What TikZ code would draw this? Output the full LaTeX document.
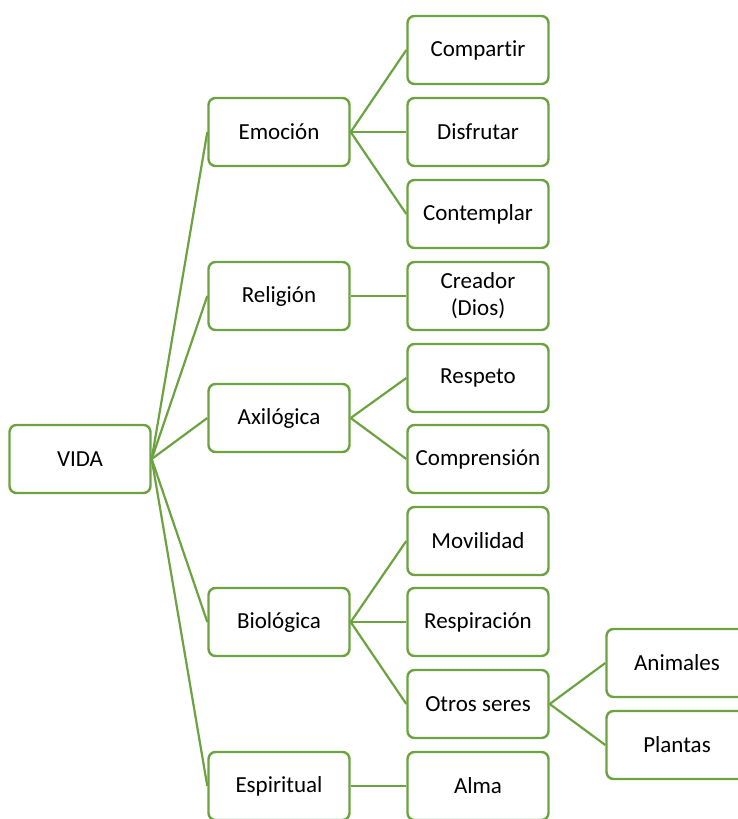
\documentclass[tikz,border=0pt]{standalone}
\usepackage{fontspec}
\setmainfont[Ligatures=NoCommon]{Carlito}
\definecolor{verde}{RGB}{108,163,64}
\begin{document}
\begin{tikzpicture}[x=1pt, y=-1pt,
  caja/.style={shape=rectangle, draw=verde, line width=2.4pt, rounded corners=7pt, fill=white,
    minimum width=141pt, minimum height=68pt, align=center, font=\fontsize{23}{27}\selectfont},
  rama/.style={-, draw=verde, line width=2.2pt}]
\useasboundingbox (0,0) rectangle (738,819);
\clip (0,0) rectangle (738,819);
% raiz
\node[caja] (vida) at (80, 459) {VIDA};
% primer nivel
\node[caja] (emo) at (279, 132) {Emoción};
\node[caja] (rel) at (279, 296) {Religión};
\node[caja] (axi) at (279, 418) {Axilógica};
\node[caja] (bio) at (279, 622) {Biológica};
\node[caja] (esp) at (279, 786) {Espiritual};
% segundo nivel
\node[caja] (comp) at (478, 50) {Compartir};
\node[caja] (disf) at (478, 132) {Disfrutar};
\node[caja] (cont) at (478, 214) {Contemplar};
\node[caja] (crea) at (478, 296) {Creador\\(Dios)};
\node[caja] (resp) at (478, 378) {Respeto};
\node[caja] (compr) at (478, 459) {Comprensión};
\node[caja] (movi) at (478, 541) {Movilidad};
\node[caja] (respi) at (478, 622) {Respiración};
\node[caja] (otros) at (478, 704) {Otros seres};
\node[caja] (alma) at (478, 786) {Alma};
% tercer nivel
\node[caja] (anim) at (677, 663) {Animales};
\node[caja] (plan) at (677, 745) {Plantas};
% conectores
\path[rama] (vida.east) edge (emo.west);
\path[rama] (vida.east) edge (rel.west);
\path[rama] (vida.east) edge (axi.west);
\path[rama] (vida.east) edge (bio.west);
\path[rama] (vida.east) edge (esp.west);
\path[rama] (emo.east) edge (comp.west);
\path[rama] (emo.east) edge (disf.west);
\path[rama] (emo.east) edge (cont.west);
\path[rama] (rel.east) edge (crea.west);
\path[rama] (axi.east) edge (resp.west);
\path[rama] (axi.east) edge (compr.west);
\path[rama] (bio.east) edge (movi.west);
\path[rama] (bio.east) edge (respi.west);
\path[rama] (bio.east) edge (otros.west);
\path[rama] (esp.east) edge (alma.west);
\path[rama] (otros.east) edge (anim.west);
\path[rama] (otros.east) edge (plan.west);
\end{tikzpicture}
\end{document}
